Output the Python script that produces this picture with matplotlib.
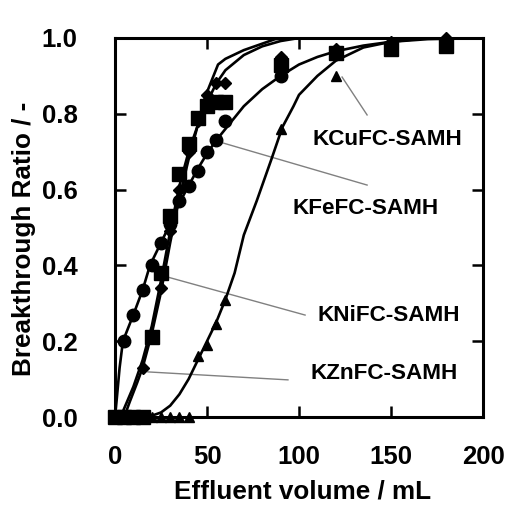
import numpy as np
import matplotlib.pyplot as plt

plt.rcParams['font.family'] = ['Liberation Sans', 'DejaVu Sans']
plt.rcParams['font.weight'] = 'bold'

# measured points (effluent volume mL, breakthrough ratio)
fe_x = [0, 5, 10, 15, 20, 25, 30, 35, 40, 45, 50, 55, 60, 90, 120, 150, 180]
fe_y = [0.0, 0.20, 0.27, 0.335, 0.40, 0.46, 0.51, 0.57, 0.61, 0.65, 0.70, 0.73, 0.78, 0.90, 0.96, 0.98, 0.99]

ni_x = [0, 5, 10, 15, 20, 25, 30, 35, 40, 45, 50, 55, 60, 90, 120, 150, 180]
ni_y = [0.0, 0.0, 0.0, 0.0, 0.21, 0.38, 0.53, 0.64, 0.72, 0.79, 0.82, 0.83, 0.83, 0.93, 0.96, 0.97, 0.98]

zn_x = [0, 5, 10, 15, 25, 30, 35, 40, 45, 50, 55, 60, 90, 120, 150, 180]
zn_y = [0.0, 0.0, 0.0, 0.13, 0.34, 0.49, 0.60, 0.70, 0.78, 0.85, 0.88, 0.88, 0.95, 0.97, 0.99, 1.0]

cu_x = [0, 5, 10, 15, 20, 25, 30, 35, 40, 45, 50, 55, 60, 90, 120, 150, 180]
cu_y = [0.0, 0.0, 0.0, 0.0, 0.0, 0.0, 0.0, 0.0, 0.0, 0.16, 0.19, 0.245, 0.31, 0.76, 0.90, 0.97, 0.98]

# fitted curves
fe_cx = [0, 1, 2.5, 4.3, 10, 15, 19, 25, 30, 35, 40, 45, 50, 55, 60, 70, 80, 90, 100, 110, 120, 135, 150, 170, 200]
fe_cy = [0.0, 0.05, 0.13, 0.20, 0.27, 0.335, 0.40, 0.46, 0.51, 0.565, 0.61, 0.655, 0.695, 0.73, 0.76, 0.82, 0.865, 0.9, 0.93, 0.95, 0.965, 0.98, 0.99, 0.997, 1.0]

ni_cx = [3, 10, 15, 20, 25, 30, 35, 40, 45, 50, 55, 60, 70, 80, 90, 100, 200]
ni_cy = [0.0, 0.08, 0.15, 0.24, 0.36, 0.49, 0.61, 0.70, 0.77, 0.83, 0.88, 0.915, 0.955, 0.978, 0.992, 1.0, 1.0]

zn_cx = [5, 8, 12, 15, 20, 25, 30, 35, 40, 45, 49, 56, 60, 70, 80, 87, 95, 200]
zn_cy = [0.0, 0.04, 0.09, 0.13, 0.22, 0.33, 0.46, 0.58, 0.68, 0.77, 0.845, 0.93, 0.945, 0.968, 0.985, 0.997, 1.0, 1.0]

cu_cx = [18, 25, 30, 35, 40, 45, 50, 55, 60, 65, 70, 77, 85, 91, 97, 100, 110, 120, 135, 150, 170, 200]
cu_cy = [0.0, 0.012, 0.03, 0.06, 0.10, 0.15, 0.20, 0.25, 0.31, 0.38, 0.48, 0.57, 0.68, 0.765, 0.82, 0.85, 0.90, 0.94, 0.975, 0.99, 1.0, 1.0]

fig = plt.figure(figsize=(5.15, 5.08), dpi=100)
ax = fig.add_axes([0.2233, 0.1791, 0.7146, 0.7461])

for cx, cy in [(fe_cx, fe_cy), (ni_cx, ni_cy), (zn_cx, zn_cy), (cu_cx, cu_cy)]:
    ax.plot(cx, cy, color='black', lw=1.9, zorder=3)

ax.plot(cu_x, cu_y, ls='none', marker='^', ms=7.5, color='black', clip_on=False, zorder=4)
ax.plot(fe_x, fe_y, ls='none', marker='o', ms=9, color='black', clip_on=False, zorder=4)
ax.plot(ni_x, ni_y, ls='none', marker='s', ms=9.5, color='black', clip_on=False, zorder=4)
ax.plot(zn_x, zn_y, ls='none', marker='D', ms=6, color='black', clip_on=False, zorder=4)

# labels with leader lines
labels = ['KCuFC-SAMH', 'KFeFC-SAMH', 'KNiFC-SAMH', 'KZnFC-SAMH']
text_pos = [(107.6, 0.733), (96.7, 0.551), (109.8, 0.269), (106.0, 0.116)]
leaders = [((137, 0.797), (123.4, 0.897)),
           ((137, 0.612), (58.7, 0.723)),
           ((103.3, 0.269), (28.8, 0.369)),
           ((94, 0.098), (17.9, 0.119))]
for lab, (tx, ty), (p0, p1) in zip(labels, text_pos, leaders):
    ax.plot([p0[0], p1[0]], [p0[1], p1[1]], color='#808080', lw=1.0, zorder=2)
    ax.text(tx, ty, lab, fontsize=16.2, fontweight='bold', ha='left', va='center')

ax.set_xlim(0, 200)
ax.set_ylim(0, 1.0)
ax.set_xticks([0, 50, 100, 150, 200])
ax.set_yticks(np.arange(0, 1.01, 0.2))
ax.set_yticklabels(['%.1f' % v for v in np.arange(0, 1.01, 0.2)])
ax.tick_params(direction='in', length=8, width=1.8, top=True, right=True,
               labelsize=18.5)
ax.tick_params(axis='y', pad=27)
ax.tick_params(axis='x', pad=20)
for sp in ax.spines.values():
    sp.set_linewidth(2.2)

ax.set_xlabel('Effluent volume / mL', fontsize=18.8, fontweight='bold')
ax.set_ylabel('Breakthrough Ratio / -', fontsize=18.8, fontweight='bold')
ax.xaxis.set_label_coords(0.51, -0.165)
ax.yaxis.set_label_coords(-0.215, 0.47)

fig.savefig('out.png', dpi=100)
